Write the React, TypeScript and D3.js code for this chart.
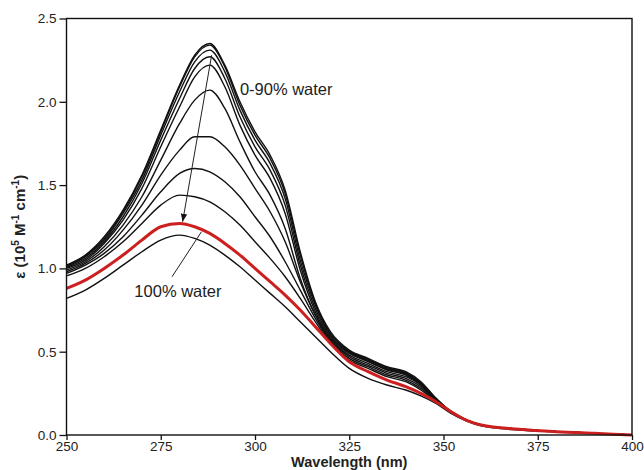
import React, { useEffect, useRef } from "react";
import { select, scaleLinear, line, curveMonotoneX, axisLeft, axisBottom, format } from "d3";

const wavelengths = [250, 255, 260, 265, 270, 275, 280, 284, 288, 292, 296, 300, 304, 308, 312, 316, 320, 325, 330, 335, 340, 344, 348, 352, 356, 360, 370, 380, 390, 400];

// epsilon (10^5 M-1 cm-1), 0-90% water (black) + 100% water (red)
const w0 = [1.02, 1.08, 1.19, 1.35, 1.56, 1.83, 2.10, 2.28, 2.35, 2.22, 2.00, 1.82, 1.68, 1.47, 1.10, 0.80, 0.62, 0.51, 0.46, 0.41, 0.38, 0.32, 0.22, 0.14, 0.09, 0.06, 0.035, 0.02, 0.01, 0.0];
const w10 = [1.015, 1.075, 1.18, 1.34, 1.55, 1.82, 2.09, 2.27, 2.34, 2.21, 1.98, 1.80, 1.66, 1.45, 1.08, 0.79, 0.61, 0.505, 0.455, 0.405, 0.375, 0.315, 0.22, 0.14, 0.09, 0.06, 0.035, 0.02, 0.01, 0.0];
const w20 = [1.01, 1.07, 1.17, 1.33, 1.53, 1.80, 2.06, 2.24, 2.31, 2.18, 1.95, 1.77, 1.63, 1.42, 1.05, 0.78, 0.60, 0.50, 0.45, 0.40, 0.37, 0.31, 0.215, 0.14, 0.09, 0.06, 0.035, 0.02, 0.01, 0.0];
const w30 = [1.005, 1.06, 1.16, 1.31, 1.51, 1.77, 2.02, 2.20, 2.27, 2.14, 1.91, 1.73, 1.59, 1.38, 1.02, 0.76, 0.59, 0.495, 0.445, 0.395, 0.365, 0.305, 0.215, 0.14, 0.09, 0.06, 0.035, 0.02, 0.01, 0.0];
const w40 = [1.0, 1.05, 1.15, 1.29, 1.48, 1.73, 1.97, 2.15, 2.22, 2.09, 1.86, 1.68, 1.54, 1.33, 0.99, 0.74, 0.58, 0.49, 0.44, 0.39, 0.36, 0.30, 0.21, 0.14, 0.09, 0.06, 0.035, 0.02, 0.01, 0.0];
const w50 = [0.99, 1.04, 1.13, 1.26, 1.43, 1.65, 1.87, 2.01, 2.07, 1.96, 1.76, 1.58, 1.44, 1.24, 0.94, 0.72, 0.57, 0.48, 0.43, 0.38, 0.35, 0.30, 0.21, 0.14, 0.09, 0.06, 0.035, 0.02, 0.01, 0.0];
const w60 = [0.98, 1.03, 1.11, 1.23, 1.38, 1.56, 1.71, 1.79, 1.79, 1.73, 1.62, 1.48, 1.34, 1.16, 0.92, 0.72, 0.57, 0.47, 0.42, 0.37, 0.34, 0.29, 0.21, 0.14, 0.09, 0.06, 0.035, 0.02, 0.01, 0.0];
const w70 = [0.97, 1.02, 1.09, 1.19, 1.32, 1.46, 1.57, 1.60, 1.58, 1.52, 1.43, 1.31, 1.19, 1.04, 0.87, 0.70, 0.56, 0.46, 0.41, 0.36, 0.33, 0.28, 0.205, 0.14, 0.09, 0.06, 0.035, 0.02, 0.01, 0.0];
const w80 = [0.955, 1.00, 1.07, 1.16, 1.27, 1.38, 1.44, 1.43, 1.40, 1.34, 1.26, 1.16, 1.06, 0.95, 0.82, 0.68, 0.55, 0.45, 0.40, 0.35, 0.32, 0.27, 0.20, 0.135, 0.09, 0.06, 0.035, 0.02, 0.01, 0.0];
const w90 = [0.82, 0.87, 0.94, 1.02, 1.10, 1.17, 1.20, 1.18, 1.14, 1.08, 1.01, 0.93, 0.85, 0.77, 0.68, 0.59, 0.50, 0.40, 0.34, 0.30, 0.27, 0.235, 0.19, 0.13, 0.085, 0.055, 0.03, 0.02, 0.01, 0.0];
const w100 = [0.88, 0.93, 1.00, 1.08, 1.17, 1.25, 1.27, 1.25, 1.21, 1.15, 1.08, 1.00, 0.92, 0.84, 0.75, 0.65, 0.55, 0.44, 0.38, 0.33, 0.29, 0.25, 0.20, 0.14, 0.09, 0.06, 0.035, 0.02, 0.01, 0.0];

const blackSeries = [w0, w10, w20, w30, w40, w50, w60, w70, w80, w90];

const xTicks = [250, 275, 300, 325, 350, 375, 400];
const yTicks = [0, 0.5, 1.0, 1.5, 2.0, 2.5];

const width = 644;
const height = 470;
const margin = { top: 18.5, right: 12, bottom: 35, left: 66.5 };

const FONT = "'Liberation Sans', Arial, sans-serif";

export default function App() {
    const xAxisRef = useRef<SVGGElement>(null);
    const yAxisRef = useRef<SVGGElement>(null);

    const x = scaleLinear().domain([250, 400]).range([margin.left, width - margin.right]);
    const y = scaleLinear().domain([0, 2.5]).range([height - margin.bottom, margin.top]);

    const lineGen = line<number>()
        .x((_, i) => x(wavelengths[i]))
        .y(d => y(d))
        .curve(curveMonotoneX);

    useEffect(() => {
        const xAxis = axisBottom(x).tickValues(xTicks).tickSize(5).tickPadding(1).tickFormat(format("d"));
        const yAxis = axisLeft(y).tickValues(yTicks).tickSize(7).tickPadding(3).tickFormat(format(".1f"));
        const gx = select(xAxisRef.current).call(xAxis as any);
        const gy = select(yAxisRef.current).call(yAxis as any);
        [gx, gy].forEach(g => {
            g.select(".domain").remove();
            g.selectAll(".tick line").attr("stroke", "#111").attr("stroke-width", 1.3);
            g.selectAll(".tick text")
                .attr("fill", "#222")
                .style("font-family", FONT)
                .style("font-size", "13.5px");
        });
    }, []);

    return (
        <svg width={width} height={height} style={{ position: "absolute", left: 0, top: 0, background: "#fff" }}>
            <g ref={xAxisRef} transform={`translate(0, ${height - margin.bottom})`} />
            <g ref={yAxisRef} transform={`translate(${margin.left}, 0)`} />

            {blackSeries.map((s, i) => (
                <path key={i} d={lineGen(s) || ""} fill="none" stroke="#111" strokeWidth={1.4} />
            ))}
            <path d={lineGen(w100) || ""} fill="none" stroke="#cc1f1f" strokeWidth={3} />

            <rect x={margin.left} y={margin.top}
                width={width - margin.left - margin.right}
                height={height - margin.top - margin.bottom}
                fill="none" stroke="#111" strokeWidth={1.4} />

            {/* arrow 0 -> 100% water */}
            <defs>
                <marker id="head" viewBox="0 0 10 10" refX="10" refY="5" markerWidth="8" markerHeight="10" orient="auto">
                    <path d="M0,1 L10,5 L0,9 Z" fill="#111" />
                </marker>
            </defs>
            <line x1={x(288.5)} y1={y(2.28)} x2={x(280.8)} y2={y(1.28)} stroke="#222" strokeWidth={1} markerEnd="url(#head)" />
            <line x1={x(278)} y1={y(0.95)} x2={x(285.8)} y2={y(1.22)} stroke="#222" strokeWidth={1} />

            <text x={x(296)} y={y(2.04)} fontFamily={FONT} fontSize={16.5} fill="#222">0-90% water</text>
            <text x={x(268)} y={y(0.83)} fontFamily={FONT} fontSize={16.5} fill="#222">100% water</text>

            <text transform={`translate(25, ${y(1.25)}) rotate(-90)`} textAnchor="middle"
                fontFamily={FONT} fontSize={15} fontWeight="bold" fill="#222">
                ε (10<tspan dy="-6" fontSize={10}>5</tspan><tspan dy="6"> M</tspan>
                <tspan dy="-6" fontSize={10}>-1</tspan><tspan dy="6"> cm</tspan>
                <tspan dy="-6" fontSize={10}>-1</tspan><tspan dy="6">)</tspan>
            </text>
            <text x={x(325)} y={467} textAnchor="middle" fontFamily={FONT} fontSize={14.5} fontWeight="bold" fill="#222">
                Wavelength (nm)
            </text>
        </svg>
    );
}
